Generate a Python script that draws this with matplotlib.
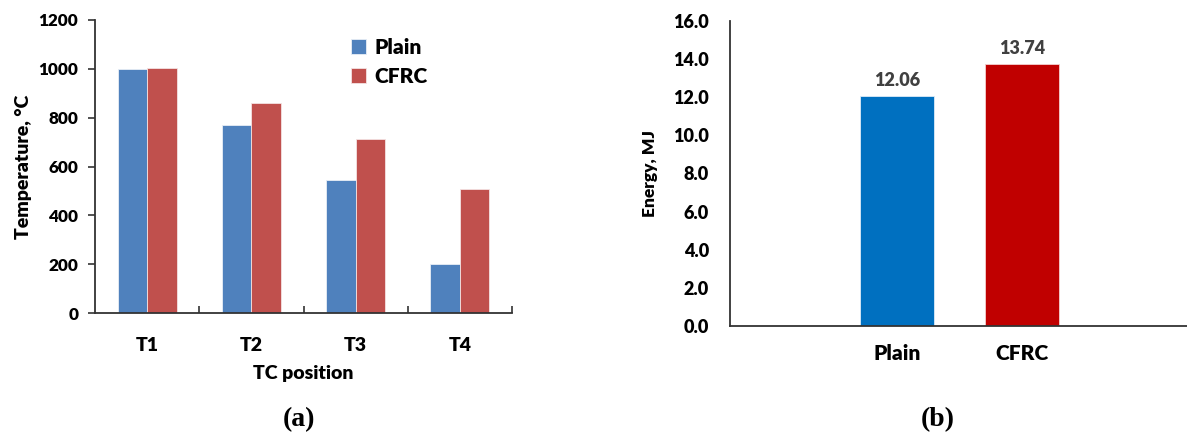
import matplotlib
matplotlib.use("Agg")
import matplotlib.pyplot as plt
import numpy as np

# Data
positions = ["T1", "T2", "T3", "T4"]
plain_temp = [1000, 768, 545, 200]
cfrc_temp = [1003, 862, 714, 509]
energy_labels = ["Plain", "CFRC"]
energy_values = [12.06, 13.74]

FONT = "Lato"
WT = "heavy"
plt.rcParams['font.family'] = [FONT, 'DejaVu Sans']

W, H = 1187, 434
fig = plt.figure(figsize=(W / 100, H / 100), dpi=100)

def rect(l, r, t, b):
    return [l / W, (H - b) / H, (r - l) / W, (b - t) / H]

# ---- Panel (a)
ax1 = fig.add_axes(rect(95, 512, 20, 313))
x = np.arange(len(positions))
bw = 0.284
ax1.bar(x - bw / 2, plain_temp, bw, color="#4F81BD", edgecolor="#E8EEF6", linewidth=0.6, label="Plain")
ax1.bar(x + bw / 2, cfrc_temp, bw, color="#C0504D", edgecolor="#F4E2E2", linewidth=0.6, label="CFRC")
ax1.set_xlim(-0.5, 3.5)
ax1.set_ylim(0, 1200)
ax1.set_yticks(range(0, 1201, 200))
ax1.set_xticks(x)
ax1.set_xticklabels(positions, fontsize=14, fontweight=WT)
ax1.set_xticks(np.arange(0.5, 3.6, 1), minor=True)
ax1.tick_params(axis="x", which="major", length=0, pad=17)
ax1.tick_params(axis="x", which="minor", length=5, direction="in", width=1.2, color="#333333")
ax1.tick_params(axis="y", length=5, direction="out", width=1.2, color="#333333", pad=7, labelsize=12.3)
for lab in ax1.get_yticklabels():
    lab.set_fontweight(WT)
for s in ["top", "right"]:
    ax1.spines[s].set_visible(False)
for s in ["left", "bottom"]:
    ax1.spines[s].set_color("#333333")
    ax1.spines[s].set_linewidth(1.3)
ax1.set_xlabel("TC position", fontsize=14, fontweight=WT, labelpad=8)
ax1.set_ylabel("Temperature, °C", fontsize=14, fontweight=WT, labelpad=5)
leg = ax1.legend(loc="upper left", bbox_to_anchor=(0.615, 0.94), frameon=False,
                 prop={"family": FONT, "weight": WT, "size": 15},
                 handlelength=0.7, handleheight=0.7, handletextpad=0.4,
                 labelspacing=0.5, borderaxespad=0, borderpad=0)

# ---- Panel (b)
ax2 = fig.add_axes(rect(730, 1187, 21, 326))
xb = np.arange(len(energy_labels))
bars = ax2.bar(xb, energy_values, 0.588, color=["#0070C0", "#C00000"],
               edgecolor=["#DDEBF7", "#F4D0D0"], linewidth=0.6)
ax2.set_xlim(-1.336, 2.32)
ax2.set_ylim(0, 16)
ax2.set_yticks(np.arange(0, 16.1, 2))
ax2.set_yticklabels([f"{v:.1f}" for v in np.arange(0, 16.1, 2)], fontsize=13, fontweight=WT)
ax2.set_xticks(xb)
ax2.set_xticklabels(energy_labels, fontsize=15, fontweight=WT)
ax2.tick_params(axis="x", length=0, pad=13)
ax2.tick_params(axis="y", length=0, pad=15)
for s in ["top", "right"]:
    ax2.spines[s].set_visible(False)
for s in ["left", "bottom"]:
    ax2.spines[s].set_color("#333333")
    ax2.spines[s].set_linewidth(1.3)
for b, v in zip(bars, energy_values):
    ax2.annotate(f"{v:.2f}", (b.get_x() + b.get_width() / 2, v), xytext=(0, 5),
                 textcoords="offset points", ha="center", va="bottom",
                 fontsize=13, fontweight=WT, color="#404040")
ax2.set_ylabel("Energy, MJ", fontsize=12.5, fontweight=WT, labelpad=11)

# panel labels
fig.text(299 / W, (H - 420) / H, "(a)", ha="center", va="center",
         family="Liberation Serif", fontweight="bold", fontsize=20)
fig.text(938 / W, (H - 420) / H, "(b)", ha="center", va="center",
         family="Liberation Serif", fontweight="bold", fontsize=20)

fig.savefig("out.png", dpi=100)
